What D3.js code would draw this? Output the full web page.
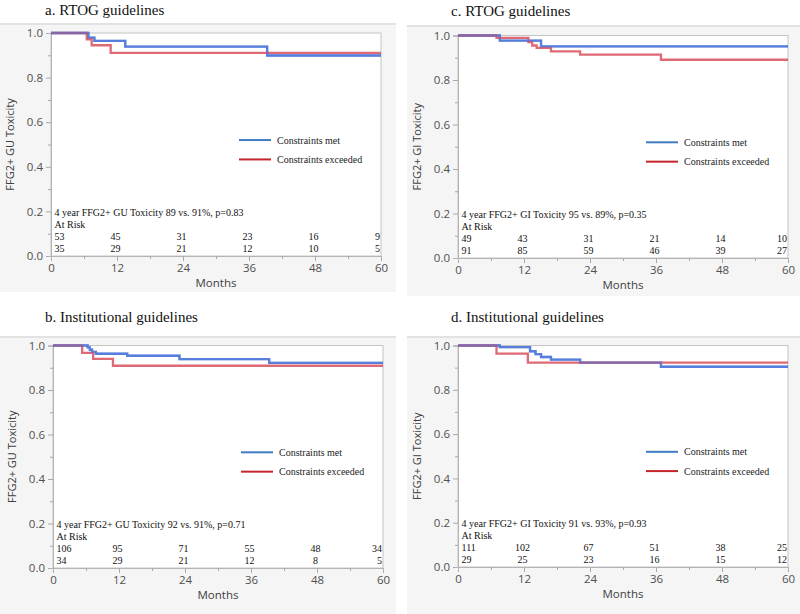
<!DOCTYPE html>
<html>
<head>
<meta charset="utf-8">
<script src="https://cdn.jsdelivr.net/npm/d3@7"></script>
<style>
  html, body { margin: 0; padding: 0; background: #ffffff; }
  svg { display: block; }
</style>
</head>
<body>
<svg id="chart" width="800" height="614"></svg>
<script>
// ---------- DATA ----------
const monthTicks = [0, 12, 24, 36, 48, 60];
const monthMinor = [6, 18, 30, 42, 54];
const yTicks = [0, 0.2, 0.4, 0.6, 0.8, 1.0];
const yMinor = [0.1, 0.3, 0.5, 0.7, 0.9];
const seriesNames = ["Constraints met", "Constraints exceeded"];

// a. RTOG guidelines (GU)
const aMetTimes = [0, 6.8, 7.9, 13.5, 39.3, 60];
const aMetSurv  = [1, 0.979, 0.965, 0.939, 0.899, 0.899];
const aExcTimes = [0, 6.5, 7.4, 10.85, 60];
const aExcSurv  = [1, 0.972, 0.945, 0.911, 0.911];
const aRiskMet = [53, 45, 31, 23, 16, 9];
const aRiskExc = [35, 29, 21, 12, 10, 5];

// b. Institutional guidelines (GU)
const bMetTimes = [0, 6.3, 6.7, 7.1, 7.8, 13.5, 23.0, 39.3, 60];
const bMetSurv  = [1, 0.992, 0.981, 0.971, 0.963, 0.954, 0.939, 0.922, 0.922];
const bExcTimes = [0, 5.3, 7.3, 10.9, 60];
const bExcSurv  = [1, 0.967, 0.940, 0.909, 0.909];
const bRiskMet = [106, 95, 71, 55, 48, 34];
const bRiskExc = [34, 29, 21, 12, 8, 5];

// c. RTOG guidelines (GI)
const cMetTimes = [0, 7.6, 15.1, 60];
const cMetSurv  = [1, 0.977, 0.951, 0.951];
const cExcTimes = [0, 7.0, 12.8, 13.5, 14.3, 16.9, 22.2, 36.9, 60];
const cExcSurv  = [1, 0.989, 0.970, 0.955, 0.944, 0.929, 0.914, 0.891, 0.891];
const cRiskMet = [49, 43, 31, 21, 14, 10];
const cRiskExc = [91, 85, 59, 46, 39, 27];

// d. Institutional guidelines (GI)
const dMetTimes = [0, 7.6, 13.1, 14.1, 15.1, 16.9, 22.2, 36.9, 60];
const dMetSurv  = [1, 0.993, 0.974, 0.961, 0.948, 0.936, 0.923, 0.904, 0.904];
const dExcTimes = [0, 7.0, 12.7, 60];
const dExcSurv  = [1, 0.963, 0.923, 0.923];
const dRiskMet = [111, 102, 67, 51, 38, 25];
const dRiskExc = [29, 25, 23, 16, 15, 12];

const titles = ["a. RTOG guidelines", "b. Institutional guidelines",
                "c. RTOG guidelines", "d. Institutional guidelines"];
const yLabels = ["FFG2+ GU Toxicity", "FFG2+ GU Toxicity", "FFG2+ GI Toxicity", "FFG2+ GI Toxicity"];
const notes = ["4 year FFG2+ GU Toxicity 89 vs. 91%, p=0.83",
               "4 year FFG2+ GU Toxicity 92 vs. 91%, p=0.71",
               "4 year FFG2+ GI Toxicity 95 vs. 89%, p=0.35",
               "4 year FFG2+ GI Toxicity 91 vs. 93%, p=0.93"];
const xLabel = "Months";
const riskLabel = "At Risk";

// ---------- LAYOUT ----------
const layout = [
  { box: [0, 23, 396, 269],   title: [45, 15],  plot: [51, 33, 330, 223] },
  { box: [0, 336, 396, 278],  title: [45, 322], plot: [53, 345.5, 330, 222.5] },
  { box: [407, 25, 393, 271], title: [451, 16], plot: [458, 35.5, 330, 222.5] },
  { box: [407, 336, 393, 278],title: [451, 322],plot: [458, 345.5, 330, 221.5] }
];
const panelData = [
  { met: [aMetTimes, aMetSurv], exc: [aExcTimes, aExcSurv], risk: [aRiskMet, aRiskExc] },
  { met: [bMetTimes, bMetSurv], exc: [bExcTimes, bExcSurv], risk: [bRiskMet, bRiskExc] },
  { met: [cMetTimes, cMetSurv], exc: [cExcTimes, cExcSurv], risk: [cRiskMet, cRiskExc] },
  { met: [dMetTimes, dMetSurv], exc: [dExcTimes, dExcSurv], risk: [dRiskMet, dRiskExc] }
];

const curveColors = ["#4a74d9", "#d9505d"];
const legendColors = ["#3f7cc4", "#c4242c"];
const serif = "'Liberation Serif', 'Times New Roman', serif";
const sans = "'Open Sans', 'Noto Sans', sans-serif";

const svg = d3.select("#chart");

layout.forEach((L, i) => {
  const D = panelData[i];
  const [bx, by, bw, bh] = L.box;
  const [px, py, pw, ph] = L.plot;

  // title
  svg.append("text").attr("x", L.title[0]).attr("y", L.title[1])
    .attr("font-family", serif).attr("font-size", 15).attr("fill", "#111")
    .text(titles[i]);

  // gray panel
  svg.append("rect").attr("x", bx).attr("y", by).attr("width", bw).attr("height", bh)
    .attr("fill", "#f5f5f5");
  svg.append("rect").attr("x", bx).attr("y", by).attr("width", bw).attr("height", 2)
    .attr("fill", "#e2e2e2");

  const x = d3.scaleLinear().domain([0, 60]).range([px, px + pw]);
  const y = d3.scaleLinear().domain([0, 1]).range([py + ph, py]);

  // plot area
  svg.append("rect").attr("x", px).attr("y", py).attr("width", pw).attr("height", ph)
    .attr("fill", "#ffffff").attr("stroke", "#c4c4c4").attr("stroke-width", 1);

  // axes
  const gx = svg.append("g").attr("transform", `translate(0,${py + ph})`)
    .call(d3.axisBottom(x).tickValues(monthTicks).tickSize(5).tickPadding(3).tickFormat(d3.format("d")));
  const gxm = svg.append("g").attr("transform", `translate(0,${py + ph})`)
    .call(d3.axisBottom(x).tickValues(monthMinor).tickSize(3).tickFormat(""));
  const gy = svg.append("g").attr("transform", `translate(${px},0)`)
    .call(d3.axisLeft(y).tickValues(yTicks).tickSize(5).tickPadding(3).tickFormat(d3.format(".1f")));
  const gym = svg.append("g").attr("transform", `translate(${px},0)`)
    .call(d3.axisLeft(y).tickValues(yMinor).tickSize(3).tickFormat(""));
  [gx, gxm, gy, gym].forEach(g => {
    g.select(".domain").attr("stroke", "#b4b4b4");
    g.selectAll(".tick line").attr("stroke", "#a8a8a8");
    g.selectAll(".tick text").attr("font-family", sans).attr("font-size", 11.5).attr("fill", "#505050");
  });

  // axis labels
  svg.append("text").attr("x", px + pw / 2).attr("y", py + ph + 31)
    .attr("text-anchor", "middle").attr("font-family", sans).attr("font-size", 11.5)
    .attr("fill", "#404040").text(xLabel);
  svg.append("text")
    .attr("transform", `translate(${px - 37},${py + ph / 2}) rotate(-90)`)
    .attr("text-anchor", "middle").attr("font-family", sans).attr("font-size", 11)
    .attr("fill", "#404040").text(yLabels[i]);

  // curves
  const line = d3.line().curve(d3.curveStepAfter).x(d => x(d[0])).y(d => y(d[1]));
  [D.met, D.exc].forEach((s, k) => {
    const pts = s[0].map((t, j) => [t, s[1][j]]);
    svg.append("path").attr("d", line(pts)).attr("fill", "none")
      .attr("stroke", curveColors[k]).attr("stroke-width", 2.3).attr("stroke-opacity", 0.85);
  });
  {
    const s = D.met;
    const pts = s[0].map((t, j) => [t, s[1][j]]);
    svg.append("path").attr("d", line(pts)).attr("fill", "none")
      .attr("stroke", curveColors[0]).attr("stroke-width", 2.3).attr("stroke-opacity", 0.5);
  }

  // legend
  const legS = [0.52, 0.433];
  seriesNames.forEach((nm, k) => {
    svg.append("line").attr("x1", px + pw - 142).attr("x2", px + pw - 110)
      .attr("y1", y(legS[k])).attr("y2", y(legS[k]))
      .attr("stroke", legendColors[k]).attr("stroke-width", 2);
    svg.append("text").attr("x", px + pw - 104).attr("y", y(legS[k]) + 3.5)
      .attr("font-family", serif).attr("font-size", 10).attr("fill", "#222").text(nm);
  });

  // annotation + at-risk table
  const y0 = y(0);
  const tx = px + 3.5;
  svg.append("text").attr("x", tx).attr("y", y0 - 40.5)
    .attr("font-family", serif).attr("font-size", 10).attr("fill", "#111").text(notes[i]);
  svg.append("text").attr("x", tx).attr("y", y0 - 28.5)
    .attr("font-family", serif).attr("font-size", 10).attr("fill", "#111").text(riskLabel);
  D.risk.forEach((row, r) => {
    row.forEach((v, j) => {
      const t = monthTicks[j];
      let xx = x(t) - 1.5, anchor = "middle";
      if (j === 0) { xx = tx; anchor = "start"; }
      if (j === row.length - 1) { xx = x(t) - 1; anchor = "end"; }
      svg.append("text").attr("x", xx).attr("y", y0 - 16 + r * 12)
        .attr("text-anchor", anchor)
        .attr("font-family", serif).attr("font-size", 10).attr("fill", "#111").text(v);
    });
  });
});
</script>
</body>
</html>
